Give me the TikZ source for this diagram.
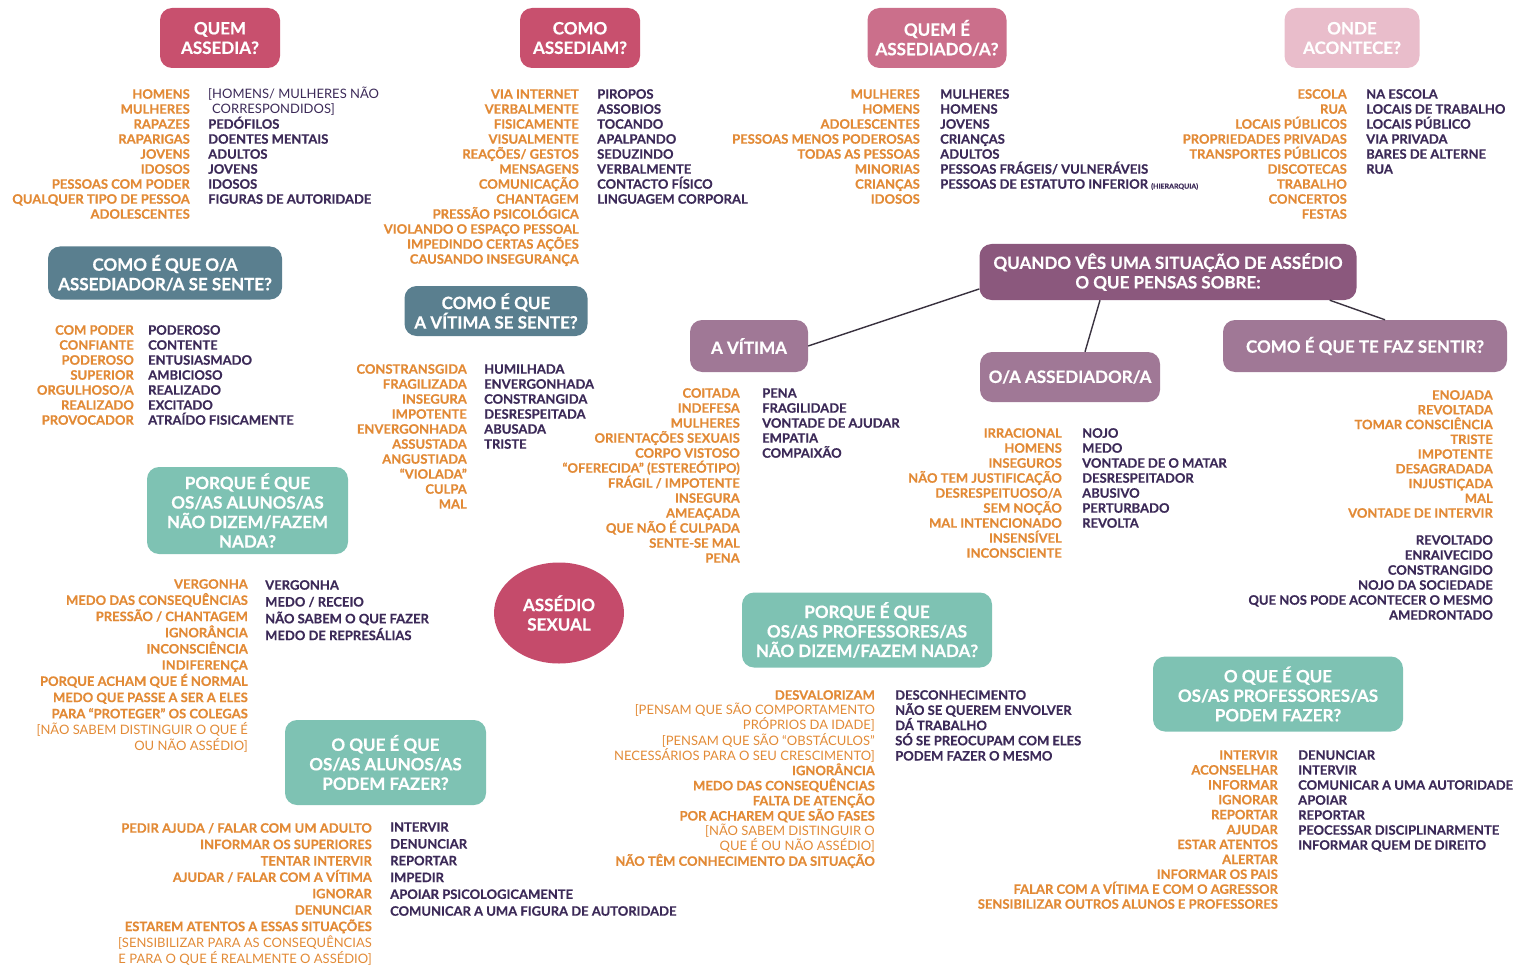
\documentclass[tikz,border=0pt]{standalone}
\usepackage{fontspec}
\setmainfont{Lato}[BoldFeatures={FakeBold=0.5}]
\usetikzlibrary{calc,shapes.geometric}
\definecolor{otext}{HTML}{E28A36}
\definecolor{ptext}{HTML}{3C2A58}
\definecolor{cRed}{HTML}{C8506E}
\definecolor{cRose}{HTML}{CB6F8B}
\definecolor{cPale}{HTML}{E9BDCB}
\definecolor{cBlue}{HTML}{5A7F8F}
\definecolor{cTeal}{HTML}{7EC2B3}
\definecolor{cPlum}{HTML}{8B587D}
\definecolor{cMauve}{HTML}{A07896}
\definecolor{cEll}{HTML}{C54B6B}
\definecolor{cLine}{HTML}{3A3340}
\newcommand\itemfont{\fontsize{13}{15}\selectfont\bfseries}
\newcommand\titlefont{\fontsize{17}{19.5}\selectfont\bfseries}
\newcommand\lt{\mdseries}
\newcommand\ocol[5]{\foreach \itm [count=\nn] in {#5}{\node[otxt,anchor=base east] (#1-\nn) at (#2,{#3+4.7+(\nn-1)*#4}) {\itm};}}
\newcommand\pcol[5]{\foreach \itm [count=\nn] in {#5}{\node[ptxt,anchor=base west] (#1-\nn) at (#2,{#3+4.7+(\nn-1)*#4}) {\itm};}}
\newcommand\pcolr[5]{\foreach \itm [count=\nn] in {#5}{\node[ptxt,anchor=base east] (#1-\nn) at (#2,{#3+4.7+(\nn-1)*#4}) {\itm};}}
\tikzset{
  otxt/.style={font=\itemfont, text=otext, inner sep=0pt},
  ptxt/.style={font=\itemfont, text=ptext, inner sep=0pt},
  titlebox/.style={rounded corners=12pt, text=white, font=\titlefont, align=center, inner sep=0pt},
  conn/.style={draw=cLine, line width=1.4pt}
}
\begin{document}
\begin{tikzpicture}[x=1pt,y=-1pt]
\useasboundingbox (0,0) rectangle (1517,968);
% title boxes
\node[titlebox, fill=cRed, minimum width=120, minimum height=60] (qa) at (220,38) {QUEM\\ASSEDIA?};
\node[titlebox, fill=cRed, minimum width=120, minimum height=60] (ca) at (580,38) {COMO\\ASSEDIAM?};
\node[titlebox, fill=cRose, minimum width=139, minimum height=60] (qe) at (937,38) {QUEM É\\ASSEDIADO/A?};
\node[titlebox, fill=cPale, minimum width=135, minimum height=60] (on) at (1352,38) {ONDE\\ACONTECE?};
\node[titlebox, fill=cBlue, minimum width=234, minimum height=53] (as) at (165,273) {COMO É QUE O/A\\ASSEDIADOR/A SE SENTE?};
\node[titlebox, fill=cBlue, minimum width=183, minimum height=50] (vs) at (496,311) {COMO É QUE\\A VÍTIMA SE SENTE?};
\node[titlebox, fill=cPlum, minimum width=377, minimum height=56] (qv) at (1168,272) {QUANDO VÊS UMA SITUAÇÃO DE ASSÉDIO\\O QUE PENSAS SOBRE:};
\node[titlebox, fill=cMauve, minimum width=118, minimum height=52] (av) at (749,346) {A VÍTIMA};
\node[titlebox, fill=cMauve, minimum width=180, minimum height=50] (oa) at (1070,377) {O/A ASSEDIADOR/A};
\node[titlebox, fill=cMauve, minimum width=284, minimum height=52] (cs) at (1365,346) {COMO É QUE TE FAZ SENTIR?};
\node[titlebox, fill=cTeal, minimum width=201, minimum height=87] (pa) at (247.5,510.5) {PORQUE É QUE\\OS/AS ALUNOS/AS\\NÃO DIZEM/FAZEM\\NADA?};
\node[ellipse, fill=cEll, text=white, font=\titlefont, align=center, inner sep=0pt, minimum width=130, minimum height=101] (ell) at (559,613) {ASSÉDIO\\SEXUAL};
\node[titlebox, fill=cTeal, minimum width=250, minimum height=75] (pp) at (867,630) {PORQUE É QUE\\OS/AS PROFESSORES/AS\\NÃO DIZEM/FAZEM NADA?};
\node[titlebox, fill=cTeal, minimum width=250, minimum height=75] (op) at (1278,694) {O QUE É QUE\\OS/AS PROFESSORES/AS\\PODEM FAZER?};
\node[titlebox, fill=cTeal, minimum width=201, minimum height=85] (oal) at (385.5,762.5) {O QUE É QUE\\OS/AS ALUNOS/AS\\PODEM FAZER?};
% connectors
\draw[conn] ($(qv.west)!0.6!(qv.south west)$) -- (av.east);
\draw[conn] ($(qv.south)+(-68,0)$) -- ($(oa.north)+(15,0)$);
\draw[conn] ($(qv.south east)+(-27,0)$) -- ($(cs.north)+(20,0)$);
% lists
\ocol{qaO}{190}{94}{15}{HOMENS,MULHERES,RAPAZES,RAPARIGAS,JOVENS,IDOSOS,PESSOAS COM PODER,QUALQUER TIPO DE PESSOA,ADOLESCENTES}
\pcol{qaP}{208}{94}{15}{{\lt [HOMENS/ MULHERES NÃO},{\lt\hspace{4pt}CORRESPONDIDOS]},PEDÓFILOS,DOENTES MENTAIS,ADULTOS,JOVENS,IDOSOS,FIGURAS DE AUTORIDADE}
\ocol{caO}{579}{94}{15}{VIA INTERNET,VERBALMENTE,FISICAMENTE,VISUALMENTE,REAÇÕES/ GESTOS,MENSAGENS,COMUNICAÇÃO,CHANTAGEM,PRESSÃO PSICOLÓGICA,VIOLANDO O ESPAÇO PESSOAL,IMPEDINDO CERTAS AÇÕES,CAUSANDO INSEGURANÇA}
\pcol{caP}{597}{94}{15}{PIROPOS,ASSOBIOS,TOCANDO,APALPANDO,SEDUZINDO,VERBALMENTE,CONTACTO FÍSICO,LINGUAGEM CORPORAL}
\ocol{qeO}{920}{94}{15}{MULHERES,HOMENS,ADOLESCENTES,PESSOAS MENOS PODEROSAS,TODAS AS PESSOAS,MINORIAS,CRIANÇAS,IDOSOS}
\pcol{qeP}{940}{94}{15}{MULHERES,HOMENS,JOVENS,CRIANÇAS,ADULTOS,PESSOAS FRÁGEIS/ VULNERÁVEIS,{PESSOAS DE ESTATUTO INFERIOR {\fontsize{7}{8}\selectfont (HIERARQUIA)}}}
\ocol{onO}{1347}{94}{15}{ESCOLA,RUA,LOCAIS PÚBLICOS,PROPRIEDADES PRIVADAS,TRANSPORTES PÚBLICOS,DISCOTECAS,TRABALHO,CONCERTOS,FESTAS}
\pcol{onP}{1366}{94}{15}{NA ESCOLA,LOCAIS DE TRABALHO,LOCAIS PÚBLICO,VIA PRIVADA,BARES DE ALTERNE,RUA}
\ocol{asO}{134}{330}{15}{COM PODER,CONFIANTE,PODEROSO,SUPERIOR,ORGULHOSO/A,REALIZADO,PROVOCADOR}
\pcol{asP}{148}{330}{15}{PODEROSO,CONTENTE,ENTUSIASMADO,AMBICIOSO,REALIZADO,EXCITADO,ATRAÍDO FISICAMENTE}
\ocol{vsO}{467}{369}{15}{CONSTRANSGIDA,FRAGILIZADA,INSEGURA,IMPOTENTE,ENVERGONHADA,ASSUSTADA,ANGUSTIADA,“VIOLADA”,CULPA,MAL}
\pcol{vsP}{484}{369}{15}{HUMILHADA,ENVERGONHADA,CONSTRANGIDA,DESRESPEITADA,ABUSADA,TRISTE}
\ocol{avO}{740}{393}{15}{COITADA,INDEFESA,MULHERES,ORIENTAÇÕES SEXUAIS,CORPO VISTOSO,“OFERECIDA” (ESTEREÓTIPO),FRÁGIL / IMPOTENTE,INSEGURA,AMEAÇADA,QUE NÃO É CULPADA,SENTE-SE MAL,PENA}
\pcol{avP}{762}{393}{15}{PENA,FRAGILIDADE,VONTADE DE AJUDAR,EMPATIA,COMPAIXÃO}
\ocol{oaO}{1062}{433}{15}{IRRACIONAL,HOMENS,INSEGUROS,NÃO TEM JUSTIFICAÇÃO,DESRESPEITUOSO/A,SEM NOÇÃO,MAL INTENCIONADO,INSENSÍVEL,INCONSCIENTE}
\pcol{oaP}{1082}{433}{15}{NOJO,MEDO,VONTADE DE O MATAR,DESRESPEITADOR,ABUSIVO,PERTURBADO,REVOLTA}
\ocol{csO}{1493}{395}{14.75}{ENOJADA,REVOLTADA,TOMAR CONSCIÊNCIA,TRISTE,IMPOTENTE,DESAGRADADA,INJUSTIÇADA,MAL,VONTADE DE INTERVIR}
\pcolr{csP}{1493}{540}{15}{REVOLTADO,ENRAIVECIDO,CONSTRANGIDO,NOJO DA SOCIEDADE,QUE NOS PODE ACONTECER O MESMO,AMEDRONTADO}
\ocol{paO}{248}{584}{16.2}{VERGONHA,MEDO DAS CONSEQUÊNCIAS,PRESSÃO / CHANTAGEM,IGNORÂNCIA,INCONSCIÊNCIA,INDIFERENÇA,PORQUE ACHAM QUE É NORMAL,MEDO QUE PASSE A SER A ELES,PARA “PROTEGER” OS COLEGAS,{\lt [NÃO SABEM DISTINGUIR O QUE É},{\lt OU NÃO ASSÉDIO]}}
\pcol{paP}{265}{585}{16.8}{VERGONHA,MEDO / RECEIO,NÃO SABEM O QUE FAZER,MEDO DE REPRESÁLIAS}
\ocol{ppO}{875}{695}{15.1}{DESVALORIZAM,{\lt [PENSAM QUE SÃO COMPORTAMENTO},{\lt PRÓPRIOS DA IDADE]},{\lt [PENSAM QUE SÃO “OBSTÁCULOS”},{\lt NECESSÁRIOS PARA O SEU CRESCIMENTO]},IGNORÂNCIA,MEDO DAS CONSEQUÊNCIAS,FALTA DE ATENÇÃO,POR ACHAREM QUE SÃO FASES,{\lt [NÃO SABEM DISTINGUIR O},{\lt QUE É OU NÃO ASSÉDIO]},NÃO TÊM CONHECIMENTO DA SITUAÇÃO}
\pcol{ppP}{895}{695}{15.2}{DESCONHECIMENTO,NÃO SE QUEREM ENVOLVER,DÁ TRABALHO,SÓ SE PREOCUPAM COM ELES,PODEM FAZER O MESMO}
\ocol{oalO}{372}{828}{16.4}{PEDIR AJUDA / FALAR COM UM ADULTO,INFORMAR OS SUPERIORES,TENTAR INTERVIR,AJUDAR / FALAR COM A VÍTIMA,IGNORAR,DENUNCIAR,ESTAREM ATENTOS A ESSAS SITUAÇÕES,{\lt [SENSIBILIZAR PARA AS CONSEQUÊNCIAS},{\lt E PARA O QUE É REALMENTE O ASSÉDIO]}}
\pcol{oalP}{390}{827}{16.8}{INTERVIR,DENUNCIAR,REPORTAR,IMPEDIR,APOIAR PSICOLOGICAMENTE,COMUNICAR A UMA FIGURA DE AUTORIDADE}
\ocol{opO}{1278}{755}{14.9}{INTERVIR,ACONSELHAR,INFORMAR,IGNORAR,REPORTAR,AJUDAR,ESTAR ATENTOS,ALERTAR,INFORMAR OS PAIS,FALAR COM A VÍTIMA E COM O AGRESSOR,SENSIBILIZAR OUTROS ALUNOS E PROFESSORES}
\pcol{opP}{1298}{755}{15}{DENUNCIAR,INTERVIR,COMUNICAR A UMA AUTORIDADE,APOIAR,REPORTAR,PEOCESSAR DISCIPLINARMENTE,INFORMAR QUEM DE DIREITO}
\end{tikzpicture}
\end{document}
